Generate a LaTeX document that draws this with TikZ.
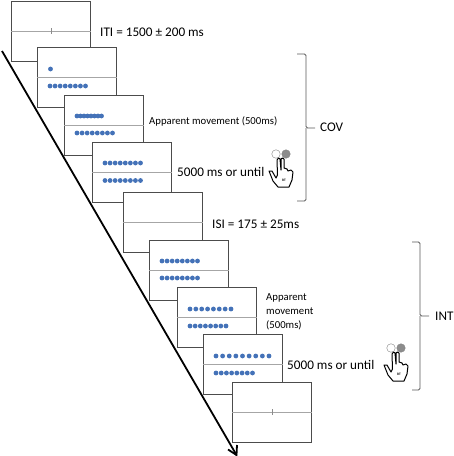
\documentclass[tikz,border=0pt]{standalone}
\usepackage{fontspec}
\setmainfont{Carlito}
\usetikzlibrary{calc}
\definecolor{dotblue}{HTML}{4472B8}
\tikzset{
  x=1pt,y=-1pt,
  screenbox/.style={draw=black!70, line width=0.8pt, fill=white, minimum width=79pt, minimum height=60pt, inner sep=0pt, anchor=north west},
  midline/.style={draw=black!35, line width=0.9pt},
  tickmark/.style={draw=black!45, line width=0.5pt},
  stimdot/.style={circle, fill=dotblue, inner sep=0pt, minimum size=4.8pt},
  timelabel/.style={anchor=west, inner sep=0pt, align=left, font=\fontsize{13.2pt}{14pt}\selectfont},
  smalllabel/.style={anchor=west, inner sep=0pt, align=left, font=\fontsize{10.7pt}{14pt}\selectfont},
  sidebrace/.style={draw=black!65, line width=0.9pt, rounded corners=1.5pt},
}
% row of dots from x1 to x2 at height y
\newcommand{\dotrow}[4][8]{%
  \foreach \k in {1,...,#1}
    \node[stimdot] at ({#2+(#3-#2)*(\k-1)/(#1-1)},#4) {};
}
% hand with two response keys
\newcommand{\handkeys}[3]{%
  \begin{scope}[shift={(#1,#2)}]
    \node[name=#3l, draw=black!50, circle, inner sep=0pt, minimum size=8.5pt] at (-5,0) {};
    \node[name=#3r, draw=black!50, fill=black!45, circle, inner sep=0pt, minimum size=8.5pt] at (5,0) {};
    \draw[line width=1pt, fill=white, line join=round]
      (-4,6) -- (-3.5,21) -- (-5,24) -- (-9,17) -- (-12,17) -- (-8,27) -- (-3,33) -- (8,33)
      -- (11,26) -- (12,18) -- (10,16) -- (7,17) -- (6,15) -- (3,14) -- (3,5) -- (1.5,4)
      -- (0,5) -- (0,16) -- (-1,5) -- (-2.5,4) -- cycle;
    \node[font=\fontsize{3.5pt}{4pt}\selectfont\bfseries, inner sep=0pt] at (3,26) {RT};
  \end{scope}
}
\begin{document}
\begin{tikzpicture}
\useasboundingbox (0,0) rectangle (454,456);

\node[screenbox] (s1) at (11,1) {};
\node[screenbox] (s2) at (37,47) {};
\node[screenbox] (s3) at (64,95) {};
\node[screenbox] (s4) at (92,142) {};
\node[screenbox] (s5) at (123,192) {};
\node[screenbox] (s6) at (149,240) {};
\node[screenbox] (s7) at (177,287) {};
\node[screenbox] (s8) at (203,334) {};
\node[screenbox] (s9) at (232,382) {};

\coordinate (tstart) at (2,51);
\coordinate (tend) at (236.5,455);
\draw[line width=1.8pt] (tstart) -- (tend);
\draw[line width=1.8pt] ($(tend)+(-8.5,-5.5)$) -- (tend) -- ($(tend)+(0.5,-10)$);

\foreach \s in {s1,s2,s3,s4,s5,s6,s7,s8,s9}
  \draw[midline] (\s.west) -- (\s.east);
\draw[tickmark] ($(s1.center)+(0,-3)$) -- ($(s1.center)+(0,3)$);
\draw[tickmark] ($(s9.center)+(0,-3)$) -- ($(s9.center)+(0,3)$);

\node[stimdot] (d2) at (50.5,69) {};
\dotrow{50}{85.5}{86}
\dotrow{77}{101.5}{116}
\dotrow{77}{112.5}{133}
\dotrow{105}{140.5}{163}
\dotrow{105}{140.5}{180.5}
\dotrow{162}{197.5}{261}
\dotrow{162}{197.5}{278}
\dotrow{190}{231}{309}
\dotrow{190}{226}{326}
\dotrow[9]{216}{269}{356}
\dotrow{216}{252.5}{373}

\node[timelabel] (t1) at (100,32) {ITI = 1500 ± 200 ms};
\node[smalllabel] (t3) at (149,121) {Apparent movement (500ms)};
\node[timelabel] (t4) at (177,172) {5000 ms or until};
\node[timelabel] (t5) at (212,224) {ISI = 175 ± 25ms};
\node[smalllabel] (t7) at (266,312) {Apparent\\movement\\(500ms)};
\node[timelabel] (t8) at (287,365) {5000 ms or until};

\handkeys{281}{154}{ha}
\handkeys{396}{348}{hb}

\node[timelabel] (cov) at (320,127) {COV};
\node[timelabel] (int) at (435,316) {INT};
\coordinate (covtick) at (315,128);
\coordinate (inttick) at (429,316);
\draw[sidebrace] (297,54) -- (306,54) -- (306,128) -- (covtick);
\draw[sidebrace] (306,128) -- (306,201) -- (297,201);
\draw[sidebrace] (412,242) -- (420,242) -- (420,316) -- (inttick);
\draw[sidebrace] (420,316) -- (420,390) -- (412,390);
\end{tikzpicture}
\end{document}
